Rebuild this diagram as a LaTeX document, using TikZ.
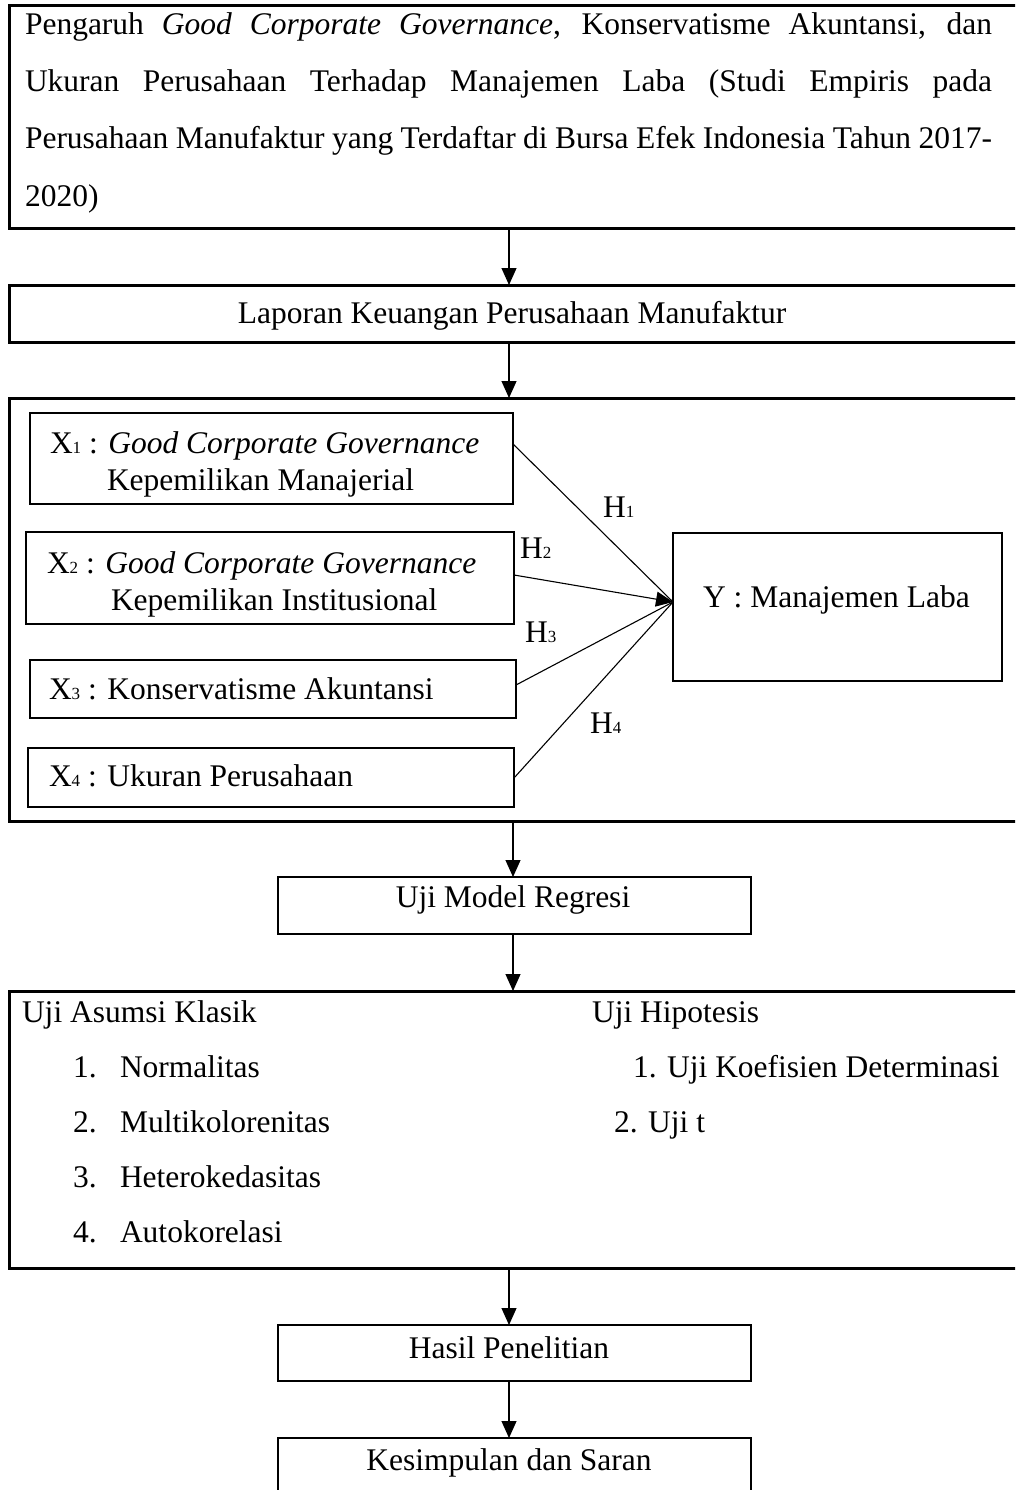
\documentclass[tikz,border=0pt]{standalone}
\usepackage{fontspec}
\setmainfont{Liberation Serif}
\usetikzlibrary{arrows.meta}
\newcommand\mysub[1]{{\fontsize{17}{17}\selectfont #1}}
\begin{document}
\begin{tikzpicture}[x=1pt,y=-1pt,
  obox/.style={draw, line width=3pt, inner sep=0pt, outer sep=0pt, anchor=north west},
  ibox/.style={draw, line width=1.8pt, inner sep=0pt, outer sep=0pt, anchor=north west},
  mbox/.style={draw, line width=2.4pt, inner sep=0pt, outer sep=0pt, anchor=north west},
  txt/.style={inner sep=0pt, outer sep=0pt, anchor=base west, font=\fontsize{31.5}{37}\selectfont},
  ctxt/.style={txt, anchor=base},
  arr/.style={line width=1.1pt, -{Triangle[length=17pt,width=15pt]}},
  link/.style={line width=1.1pt}]
\useasboundingbox (0,0) rectangle (1015,1490);
\clip (0,0) rectangle (1015,1490);

% boxes
\node[obox, minimum width=1021pt, minimum height=222pt] (title) at (9,6) {};
\node[obox, minimum width=1021pt, minimum height=57pt] (lap) at (9,285) {};
\node[obox, minimum width=1021pt, minimum height=423pt] (model) at (9,398) {};
\node[ibox, minimum width=483pt, minimum height=91pt] (x1) at (30,413) {};
\node[ibox, minimum width=488pt, minimum height=92pt] (x2) at (26,532) {};
\node[ibox, minimum width=486pt, minimum height=58pt] (x3) at (30,660) {};
\node[ibox, minimum width=486pt, minimum height=59pt] (x4) at (28,748) {};
\node[mbox, line width=2.2pt, minimum width=329pt, minimum height=148pt] (ybox) at (673,533) {};
\node[mbox, line width=2.7pt, minimum width=473pt, minimum height=57pt] (uji) at (278,877) {};
\node[obox, minimum width=1021pt, minimum height=277pt] (test) at (9,991) {};
\node[mbox, minimum width=473pt, minimum height=56pt] (hasil) at (278,1325) {};
\node[mbox, minimum width=473pt, minimum height=80pt] (kes) at (278,1438) {};

% title text
\node[txt] (tl1) at (25,35) {\hbox to 967pt{Pengaruh \textit{Good Corporate Governance}, Konservatisme Akuntansi, dan}};
\node[txt] (tl2) at (25,92) {\hbox to 967pt{Ukuran Perusahaan Terhadap Manajemen Laba (Studi Empiris pada}};
\node[txt] (tl3) at (25,149) {\hbox to 967pt{Perusahaan Manufaktur yang Terdaftar di Bursa Efek Indonesia Tahun 2017-}};
\node[txt] (tl4) at (25,206) {2020)};

\node[ctxt] (laptxt) at (512,323) {Laporan Keuangan Perusahaan Manufaktur};

% variables
\node[txt] (x1a) at (50,453) {X\mysub{1} : \textit{Good Corporate Governance}};
\node[txt] (x1b) at (107,490) {Kepemilikan Manajerial};
\node[txt] (x2a) at (47,573) {X\mysub{2} : \textit{Good Corporate Governance}};
\node[txt] (x2b) at (111,610) {Kepemilikan Institusional};
\node[txt] (x3a) at (49,699) {X\mysub{3} : Konservatisme Akuntansi};
\node[txt] (x4a) at (49,786) {X\mysub{4} : Ukuran Perusahaan};
\node[txt] (yt) at (703,607) {Y : Manajemen Laba};

\node[txt] (h1) at (603,517) {H\mysub{1}};
\node[txt] (h2) at (520,558) {H\mysub{2}};
\node[txt] (h3) at (525,642) {H\mysub{3}};
\node[txt] (h4) at (590,733) {H\mysub{4}};

\node[ctxt] (ujit) at (513,907) {Uji Model Regresi};

% tests
\node[txt] (ua) at (22,1022) {Uji Asumsi Klasik};
\node[txt] (uh) at (592,1022) {Uji Hipotesis};
\node[txt] (n1) at (73,1077) {1.};
\node[txt] (n1t) at (120,1077) {Normalitas};
\node[txt] (n2) at (73,1132) {2.};
\node[txt] (n2t) at (120,1132) {Multikolorenitas};
\node[txt] (n3) at (73,1187) {3.};
\node[txt] (n3t) at (120,1187) {Heterokedasitas};
\node[txt] (n4) at (73,1242) {4.};
\node[txt] (n4t) at (120,1242) {Autokorelasi};
\node[txt] (k1) at (633,1077) {1. Uji Koefisien Determinasi};
\node[txt] (k2) at (614,1132) {2. Uji t};

\node[ctxt] (hasilt) at (509,1358) {Hasil Penelitian};
\node[ctxt] (kest) at (509,1470) {Kesimpulan dan Saran};

% connectors
\coordinate (ax) at (509,0);
\coordinate (bx) at (513,0);
\draw[arr] (title.south -| ax) -- (lap.north -| ax);
\draw[arr] (lap.south -| ax) -- (model.north -| ax);
\draw[arr] (model.south -| bx) -- (uji.north -| bx);
\draw[arr] (uji.south -| bx) -- (test.north -| bx);
\draw[arr] (test.south -| ax) -- (hasil.north -| ax);
\draw[arr] (hasil.south -| ax) -- (kes.north -| ax);

\coordinate (tip) at ([yshift=5pt]ybox.west);
\draw[link] ([yshift=14.5pt]x1.east) -- (tip);
\draw[arr] ([yshift=3pt]x2.east) -- (tip);
\draw[link] ([yshift=4pt]x3.east) -- (tip);
\draw[link] ([yshift=-0.5pt]x4.east) -- (tip);
\end{tikzpicture}
\end{document}
